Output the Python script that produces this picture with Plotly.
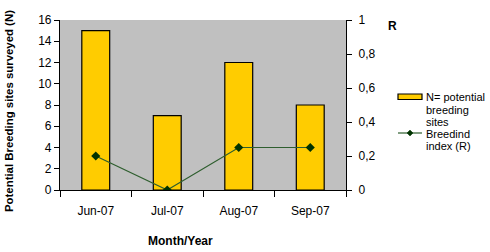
import plotly.graph_objects as go

months = ["Jun-07", "Jul-07", "Aug-07", "Sep-07"]
sites_n = [15, 7, 12, 8]
breeding_r = [0.2, 0, 0.25, 0.25]

FONT = "Liberation Sans, Arial, sans-serif"
LINE_C = "#2E5E2E"

fig = go.Figure()
fig.add_trace(go.Bar(
    x=months, y=sites_n, name="N= potential breeding sites",
    marker=dict(color="#FFCC00", line=dict(color="black", width=1.2)),
    width=0.39, yaxis="y",
))
fig.add_trace(go.Scatter(
    x=months, y=breeding_r, name="Breedind index (R)", mode="lines+markers",
    line=dict(color=LINE_C, width=1.2),
    marker=dict(symbol="diamond", size=7, color="#003300"),
    yaxis="y2",
))

fig.update_layout(
    width=490, height=252,
    margin=dict(l=60, r=144, t=20, b=62),
    paper_bgcolor="white", plot_bgcolor="#C0C0C0",
    showlegend=False,
    separators=",.",
    font=dict(family=FONT, size=12, color="black"),
    xaxis=dict(
        showgrid=False, showline=True, linecolor="black", linewidth=1.2,
        ticks="outside", tickson="boundaries", ticklen=6, tickcolor="black",
        ticklabelstandoff=9, tickfont=dict(size=12),
    ),
    yaxis=dict(
        range=[0, 16], dtick=2, showgrid=False, zeroline=False,
        showline=True, linecolor="black", linewidth=1.2,
        ticks="outside", ticklen=5, tickcolor="black", tickfont=dict(size=12),
    ),
    yaxis2=dict(
        range=[0, 1], dtick=0.2, overlaying="y", side="right",
        showgrid=False, zeroline=False,
        showline=True, linecolor="black", linewidth=1.2,
        ticks="outside", ticklen=5, tickcolor="black",
        ticklabelstandoff=4, tickfont=dict(size=12),
    ),
)

# page pixels -> paper coords
W = 286.0
H = 170.0
def px_x(p):
    return 1 + (p - 346) / W
def px_y(p):
    return (190 - p) / H

# axis titles
fig.add_annotation(text="<b>Month/Year</b>", xref="paper", yref="paper",
                   x=px_x(180), y=px_y(241), xanchor="center", yanchor="middle",
                   showarrow=False, font=dict(size=12))
fig.add_annotation(text="<b>Potential Breeding sites surveyed (N)</b>",
                   xref="paper", yref="paper", x=px_x(9), y=px_y(111),
                   xanchor="center", yanchor="middle", textangle=-90,
                   showarrow=False, font=dict(size=11.4))
fig.add_annotation(text="<b>R</b>", xref="paper", yref="paper",
                   x=px_x(392), y=px_y(26), xanchor="center",
                   yanchor="middle", showarrow=False, font=dict(size=12))

# custom legend
fig.add_shape(type="rect", xref="paper", yref="paper",
              x0=px_x(398), x1=px_x(422), y0=px_y(99.5), y1=px_y(94),
              fillcolor="#FFCC00", line=dict(color="black", width=1.2))
fig.add_shape(type="line", xref="paper", yref="paper",
              x0=px_x(398), x1=px_x(422), y0=px_y(133), y1=px_y(133),
              line=dict(color=LINE_C, width=1.2))
cx, cy, d = 410, 133, 3
diamond = (f"M {px_x(cx - d)},{px_y(cy)} L {px_x(cx)},{px_y(cy - d)} "
           f"L {px_x(cx + d)},{px_y(cy)} L {px_x(cx)},{px_y(cy + d)} Z")
fig.add_shape(type="path", xref="paper", yref="paper", path=diamond,
              fillcolor="#003300", line=dict(color="#003300", width=0.5))

legend_lines = [("N= potential", 97), ("breeding", 109.5), ("sites", 122),
                ("Breedind", 133.5), ("index (R)", 146)]
for txt, yc in legend_lines:
    fig.add_annotation(text=txt, xref="paper", yref="paper",
                       x=px_x(425), y=px_y(yc), xanchor="left", yanchor="middle",
                       align="left", showarrow=False, font=dict(size=11),
                       borderpad=0)

fig.write_html("out.html",
               config={"displayModeBar": False},
               post_script="document.body.style.margin='0';"
                           "document.body.style.overflow='hidden';")
